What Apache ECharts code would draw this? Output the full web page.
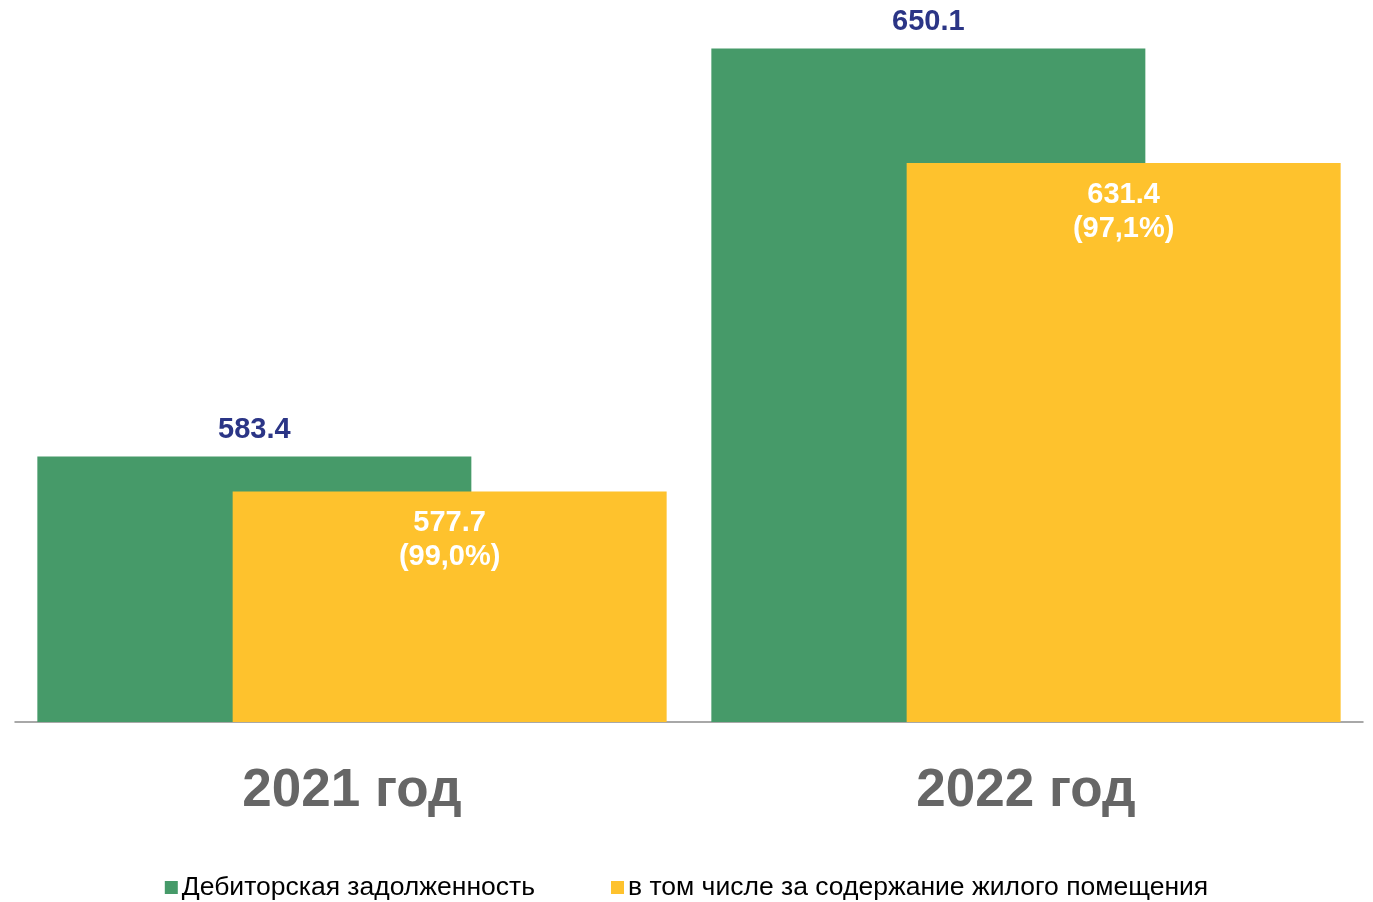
<!DOCTYPE html>
<html><head><meta charset="utf-8">
<script src="https://cdn.jsdelivr.net/npm/echarts@6/dist/echarts.min.js"></script>
<style>html,body{margin:0;padding:0;background:#fff}#c{width:1373px;height:902px}</style>
</head><body><div id="c"></div>
<script>
const categories = ['2021 год', '2022 год'];
const seriesNames = ['Дебиторская задолженность', 'в том числе за содержание жилого помещения'];
const debt = [583.4, 650.1];
const housing = [577.7, 631.4];
const housingShare = ['99,0%', '97,1%'];

const chart = echarts.init(document.getElementById('c'));
chart.setOption({
  animation: false,
  grid: { left: 15, right: 10, top: 40, bottom: 180 },
  legend: {
    bottom: -4, left: 'center', itemWidth: 13, itemHeight: 13, itemGap: 76,
    icon: 'rect',
    textStyle: { fontFamily: 'Liberation Sans Narrow, Arial Narrow, sans-serif', fontSize: 26.5, color: '#000', padding: [0, 0, 0, -1] },
    data: seriesNames
  },
  xAxis: {
    type: 'category', data: categories,
    axisLine: { lineStyle: { color: '#8c8c8c', width: 1.5 } },
    axisTick: { show: false },
    axisLabel: { fontFamily: 'Liberation Sans, Arial, sans-serif', fontWeight: 'bold', fontSize: 53, color: '#666', margin: 43 }
  },
  yAxis: { type: 'value', min: 540, max: 651.5, show: false, splitLine: { show: false } },
  series: [
    {
      name: seriesNames[0], type: 'bar', data: debt, barWidth: 434, barGap: '-55%',
      itemStyle: { color: '#469A69' },
      label: { show: true, position: 'top', distance: 12, color: '#2B3586', fontWeight: 'bold', fontSize: 29,
        fontFamily: 'Liberation Sans, Arial, sans-serif', formatter: p => p.value.toFixed(1) }
    },
    {
      name: seriesNames[1], type: 'bar', data: housing, barWidth: 434,
      itemStyle: { color: '#FEC22D' },
      label: { show: true, position: 'insideTop', distance: 15, color: '#fff', fontWeight: 'bold', fontSize: 29, lineHeight: 34,
        fontFamily: 'Liberation Sans, Arial, sans-serif',
        formatter: p => p.value.toFixed(1) + '\n(' + housingShare[p.dataIndex] + ')' }
    }
  ]
});
</script></body></html>
